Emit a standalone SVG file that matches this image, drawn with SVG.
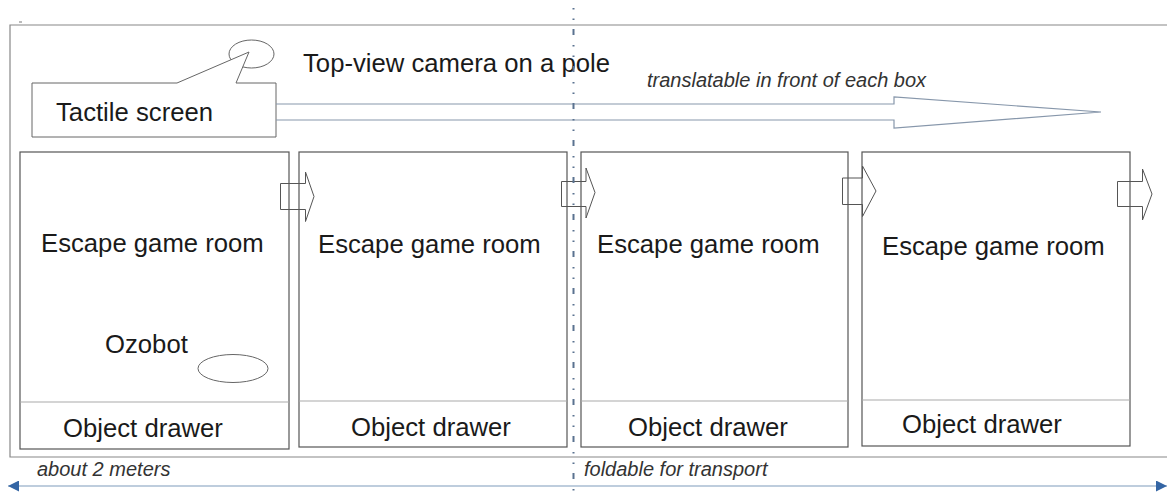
<svg xmlns="http://www.w3.org/2000/svg" width="1167" height="493" viewBox="0 0 1167 493">
<defs>
<style>
text{font-family:"Liberation Sans",Arial,sans-serif;fill:#1a1a1a}
.big{font-size:25.7px}
.it{font-size:20px;font-style:italic;fill:#333}
.box{fill:#fff;stroke:#555;stroke-width:1.2}
.div{stroke:#aaa;stroke-width:1.2}
.blk{fill:none;stroke:#555;stroke-width:1}
</style>
<marker id="ah" viewBox="0 0 10 10" refX="10" refY="5" markerWidth="15" markerHeight="11" markerUnits="userSpaceOnUse" orient="auto-start-reverse">
<path d="M0,0 L10,5 L0,10 Z" fill="#3465a4"/>
</marker>
</defs>
<rect width="1167" height="493" fill="#fff"/>
<g id="frame">
<path d="M1167,25 L10,25 L10,457 L1167,457" fill="none" stroke="#888" stroke-width="1.2"/>
<line x1="19" y1="22" x2="22" y2="22" stroke="#777" stroke-width="1"/>
</g>
<g id="camera">
<ellipse cx="251.5" cy="54" rx="22.5" ry="14" fill="none" stroke="#666" stroke-width="1"/>
<text class="big" x="303" y="72">Top-view camera on a pole</text>
</g>
<g id="tactile-screen">
<path d="M32,83 L177,83 L249,52 L236,83 L276,83 L276,137 L32,137 Z" fill="#fff" stroke="#666" stroke-width="1"/>
<text class="big" x="56" y="121">Tactile screen</text>
</g>
<g id="rooms">
<g id="room1">
<rect class="box" x="20" y="152" width="269" height="297"/>
<line class="div" x1="20" y1="402" x2="289" y2="402"/>
<text class="big" x="41" y="252">Escape game room</text>
<text class="big" x="105" y="353">Ozobot</text>
<ellipse cx="233" cy="368.5" rx="35" ry="14" fill="none" stroke="#666" stroke-width="1"/>
<text class="big" x="63" y="437">Object drawer</text>
</g>
<g id="room2">
<rect class="box" x="299" y="152" width="268" height="295"/>
<line class="div" x1="299" y1="401" x2="567" y2="401"/>
<text class="big" x="318" y="253">Escape game room</text>
<text class="big" x="351" y="436">Object drawer</text>
</g>
<g id="room3">
<rect class="box" x="581" y="152" width="267" height="295"/>
<line class="div" x1="581" y1="401" x2="848" y2="401"/>
<text class="big" x="597" y="253">Escape game room</text>
<text class="big" x="628" y="436">Object drawer</text>
</g>
<g id="room4">
<rect class="box" x="862" y="152" width="268" height="294"/>
<line class="div" x1="862" y1="400" x2="1130" y2="400"/>
<text class="big" x="882" y="255">Escape game room</text>
<text class="big" x="902" y="433">Object drawer</text>
</g>
</g>
<g id="connectors">
<path d="M276,104 L894,104 L894,97 L1101,112 L894,128 L894,120 L276,120" fill="none" stroke="#8797ab" stroke-width="1.2"/>
<text class="it" x="647" y="87">translatable in front of each box</text>
<path class="blk" d="M280.5,183.5 L305.5,183.5 L305.5,172 L314,196.5 L305.5,221.5 L305.5,209.5 L280.5,209.5 Z"/>
<path class="blk" d="M561.5,181.5 L586,181.5 L586,168 L595,192.5 L586,218 L586,206.5 L561.5,206.5 Z"/>
<path class="blk" d="M842.5,178 L862.5,178 L862.5,166 L876,191 L862.5,216.5 L862.5,204.5 L842.5,204.5 Z"/>
<path class="blk" d="M1117.5,181.5 L1142.5,181.5 L1142.5,169 L1152,194 L1142.5,220 L1142.5,206.5 L1117.5,206.5 Z"/>
<line x1="573.5" y1="8" x2="573.5" y2="493" stroke="#5a7290" stroke-width="2" stroke-dasharray="1.5 9 1.5 9 6 10"/>
<line x1="8" y1="486" x2="1167" y2="486" stroke="#7f9cbc" stroke-width="1.2" marker-start="url(#ah)" marker-end="url(#ah)"/>
<text class="it" x="37" y="476">about 2 meters</text>
<text class="it" x="584" y="476">foldable for transport</text>
</g>
</svg>
